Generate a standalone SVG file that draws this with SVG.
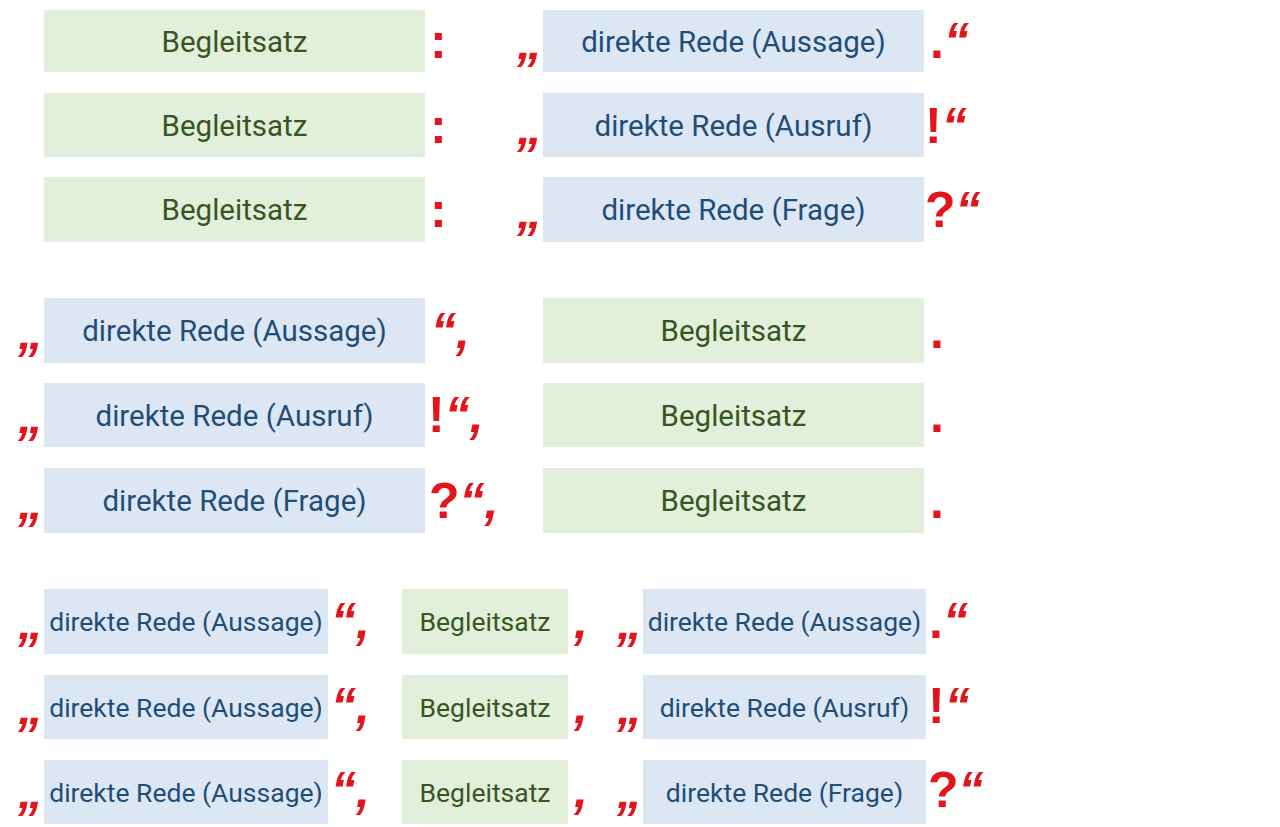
<svg xmlns="http://www.w3.org/2000/svg" width="1280" height="827" viewBox="0 0 1280 827">
<style>
.g{fill:#e2efda}
.b{fill:#dde7f3}
.tg{font-family:Roboto,"Liberation Sans",sans-serif;fill:#375623;text-anchor:middle}
.tb{font-family:Roboto,"Liberation Sans",sans-serif;fill:#1f4e79;text-anchor:middle}
.l{font-size:29.5px}
.s{font-size:26.5px}
.p{font-family:"Liberation Sans",Arial,sans-serif;font-weight:bold;font-size:50px;fill:#e3141b}
.i{font-style:italic}
</style>
<rect width="1280" height="827" fill="#ffffff"/>
<g id="connectors"/>
<!-- Section 1 -->
<g id="s1r1-begleit"><rect class="g" x="44" y="10" width="381" height="62"/><text class="tg l" x="234.5" y="51.5">Begleitsatz</text></g>
<g id="s1r1-rede"><rect class="b" x="543" y="10" width="381" height="62"/><text class="tb l" x="733.5" y="51.5">direkte Rede (Aussage)</text></g>
<g id="s1r2-begleit"><rect class="g" x="44" y="93" width="381" height="64"/><text class="tg l" x="234.5" y="135.5">Begleitsatz</text></g>
<g id="s1r2-rede"><rect class="b" x="543" y="93" width="381" height="64"/><text class="tb l" x="733.5" y="135.5">direkte Rede (Ausruf)</text></g>
<g id="s1r3-begleit"><rect class="g" x="44" y="177" width="381" height="65"/><text class="tg l" x="234.5" y="220">Begleitsatz</text></g>
<g id="s1r3-rede"><rect class="b" x="543" y="177" width="381" height="65"/><text class="tb l" x="733.5" y="220">direkte Rede (Frage)</text></g>
<g id="s1-punct">
<text class="p" x="430" y="58">:</text><text class="p i" x="517" y="59">„</text><text class="p" x="930" y="58">.<tspan class="i">“</tspan></text>
<text class="p" x="430" y="143">:</text><text class="p i" x="517" y="144">„</text><text class="p" x="925" y="143">!<tspan class="i">“</tspan></text>
<text class="p" x="430" y="227">:</text><text class="p i" x="517" y="228">„</text><text class="p" x="925" y="227">?<tspan class="i">“</tspan></text>
</g>
<!-- Section 2 -->
<g id="s2r1-rede"><rect class="b" x="44" y="298" width="381" height="65"/><text class="tb l" x="234.5" y="341">direkte Rede (Aussage)</text></g>
<g id="s2r1-begleit"><rect class="g" x="543" y="298" width="381" height="65"/><text class="tg l" x="733.5" y="341">Begleitsatz</text></g>
<g id="s2r2-rede"><rect class="b" x="44" y="383" width="381" height="64"/><text class="tb l" x="234.5" y="425.5">direkte Rede (Ausruf)</text></g>
<g id="s2r2-begleit"><rect class="g" x="543" y="383" width="381" height="64"/><text class="tg l" x="733.5" y="425.5">Begleitsatz</text></g>
<g id="s2r3-rede"><rect class="b" x="44" y="468" width="381" height="65"/><text class="tb l" x="234.5" y="511">direkte Rede (Frage)</text></g>
<g id="s2r3-begleit"><rect class="g" x="543" y="468" width="381" height="65"/><text class="tg l" x="733.5" y="511">Begleitsatz</text></g>
<g id="s2-punct">
<text class="p i" x="18" y="349">„</text><text class="p i" x="431" y="348">“,</text><text class="p" x="930" y="348">.</text>
<text class="p i" x="18" y="433">„</text><text class="p" x="428" y="432">!<tspan class="i">“,</tspan></text><text class="p" x="930" y="432">.</text>
<text class="p i" x="18" y="519">„</text><text class="p" x="429" y="518">?<tspan class="i">“,</tspan></text><text class="p" x="930" y="518">.</text>
</g>
<!-- Section 3 -->
<g id="s3r1-rede1"><rect class="b" x="44" y="589" width="284" height="65"/><text class="tb s" x="186" y="631">direkte Rede (Aussage)</text></g>
<g id="s3r1-begleit"><rect class="g" x="402" y="589" width="166" height="65"/><text class="tg s" x="485" y="631">Begleitsatz</text></g>
<g id="s3r1-rede2"><rect class="b" x="643" y="589" width="283" height="65"/><text class="tb s" x="784.5" y="631">direkte Rede (Aussage)</text></g>
<g id="s3r2-rede1"><rect class="b" x="44" y="675" width="284" height="64"/><text class="tb s" x="186" y="716.5">direkte Rede (Aussage)</text></g>
<g id="s3r2-begleit"><rect class="g" x="402" y="675" width="166" height="64"/><text class="tg s" x="485" y="716.5">Begleitsatz</text></g>
<g id="s3r2-rede2"><rect class="b" x="643" y="675" width="283" height="64"/><text class="tb s" x="784.5" y="716.5">direkte Rede (Ausruf)</text></g>
<g id="s3r3-rede1"><rect class="b" x="44" y="760" width="284" height="64"/><text class="tb s" x="186" y="801.5">direkte Rede (Aussage)</text></g>
<g id="s3r3-begleit"><rect class="g" x="402" y="760" width="166" height="64"/><text class="tg s" x="485" y="801.5">Begleitsatz</text></g>
<g id="s3r3-rede2"><rect class="b" x="643" y="760" width="283" height="64"/><text class="tb s" x="784.5" y="801.5">direkte Rede (Frage)</text></g>
<g id="s3-punct">
<text class="p i" x="18" y="639">„</text><text class="p i" x="331" y="638">“,</text><text class="p i" x="574" y="638">,</text><text class="p i" x="617" y="639">„</text><text class="p" x="929" y="638">.<tspan class="i">“</tspan></text>
<text class="p i" x="18" y="724">„</text><text class="p i" x="331" y="723">“,</text><text class="p i" x="574" y="723">,</text><text class="p i" x="617" y="724">„</text><text class="p" x="928" y="723">!<tspan class="i">“</tspan></text>
<text class="p i" x="18" y="808">„</text><text class="p i" x="331" y="807">“,</text><text class="p i" x="574" y="807">,</text><text class="p i" x="617" y="808">„</text><text class="p" x="928" y="807">?<tspan class="i">“</tspan></text>
</g>
</svg>
